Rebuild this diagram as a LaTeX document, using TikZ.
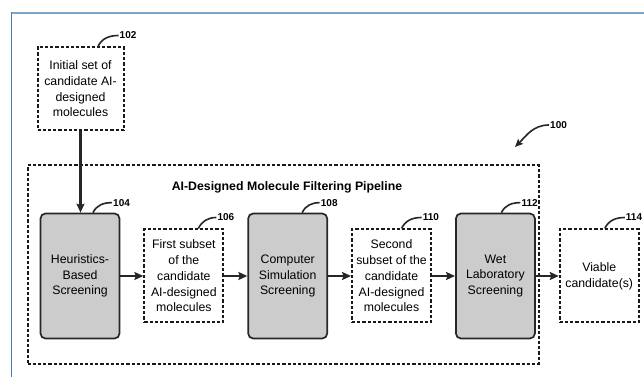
\documentclass[tikz,border=0pt]{standalone}
\usepackage{fontspec}
\setmainfont{Liberation Sans}
\usetikzlibrary{positioning,arrows.meta}

\begin{document}
\begin{tikzpicture}[x=1pt,y=1pt,
			screen box/.style={draw=black!85,line width=1.7pt,rounded corners=5pt,fill=black!20,
				minimum width=79pt,minimum height=125pt,align=center,font=\fontsize{12.3}{15.7}\selectfont},
			set box/.style={draw=black!90,line width=2pt,dash pattern=on 3.2pt off 2pt,
				minimum width=79pt,minimum height=93pt,align=center,font=\fontsize{12.3}{15.7}\selectfont},
			pipe box/.style={draw=black!90,line width=2pt,dash pattern=on 3.2pt off 2pt,
				minimum width=511pt,minimum height=198pt},
			ref label/.style={anchor=west,inner sep=1pt,font=\fontsize{10}{12}\bfseries\selectfont},
			leader/.style={line width=1.6pt,black!85},
			flow/.style={line width=2.2pt,black!85,-{Stealth[length=9pt,width=8pt,inset=1.5pt]}},
			node distance=23pt]
			\useasboundingbox (0,0) rectangle (644,377);
			\draw[line width=1.3pt,color={rgb,255:red,125;green,165;blue,200}] (11,364) -- (644,364);
			\draw[line width=1.3pt,color={rgb,255:red,75;green,125;blue,180}] (11.5,0) -- (11.5,364.6);

			\node[pipe box] (pipe) at (283,112.5) {};
			\node[font=\fontsize{12.3}{15}\bfseries\selectfont] (title) at (287,190) {AI-Designed Molecule Filtering Pipeline};

			\node[set box,minimum width=86pt,minimum height=83pt] (n102) at (80.5,288) {Initial set of\\candidate AI-\\designed\\molecules};
			\node[screen box] (n104) at (80,101) {Heuristics-\\Based\\Screening};
			\node[set box] (n106) [right=of n104] {First subset\\of the\\candidate\\AI-designed\\molecules};
			\node[screen box] (n108) [right=of n106] {Computer\\Simulation\\Screening};
			\node[set box] (n110) [right=of n108] {Second\\subset of the\\candidate\\AI-designed\\molecules};
			\node[screen box] (n112) [right=of n110] {Wet\\Laboratory\\Screening};
			\node[set box] (n114) [right=of n112] {Viable\\candidate(s)};

			\draw[flow] (n102.south) -- (n102.south |- n104.north);
			\draw[flow] (n104) -- (n106);
			\draw[flow] (n106) -- (n108);
			\draw[flow] (n108) -- (n110);
			\draw[flow] (n110) -- (n112);
			\draw[flow] (n112) -- (n114);

			\node[ref label] (l102) at ([xshift=38pt,yshift=11pt]n102.north) {102};
			\node[ref label] (l104) at ([xshift=32pt,yshift=10pt]n104.north) {104};
			\node[ref label] (l106) at ([xshift=32.5pt,yshift=11pt]n106.north) {106};
			\node[ref label] (l108) at ([xshift=32pt,yshift=10pt]n108.north) {108};
			\node[ref label] (l110) at ([xshift=30pt,yshift=11pt]n110.north) {110};
			\node[ref label] (l112) at ([xshift=25pt,yshift=10pt]n112.north) {112};
			\node[ref label] (l114) at ([xshift=25.5pt,yshift=11pt]n114.north) {114};
			\draw[leader] ([xshift=17.5pt]n102.north) to[out=65,in=180] (l102.west);
			\draw[leader] ([xshift=13pt]n104.north) to[out=65,in=180] (l104.west);
			\draw[leader] ([xshift=14.5pt]n106.north) to[out=65,in=180] (l106.west);
			\draw[leader] ([xshift=14.5pt]n108.north) to[out=65,in=180] (l108.west);
			\draw[leader] ([xshift=10pt]n110.north) to[out=65,in=180] (l110.west);
			\draw[leader] ([xshift=6pt]n112.north) to[out=65,in=180] (l112.west);
			\draw[leader] ([xshift=5.5pt]n114.north) to[out=65,in=180] (l114.west);

			\node[ref label] (l100) at (549,252) {100};
			\coordinate (c100) at (515,230);
			\draw[leader,-{Stealth[length=8pt,width=7pt,inset=1.5pt]}] (l100.west) to[out=180,in=45] (c100);
\end{tikzpicture}
\end{document}
